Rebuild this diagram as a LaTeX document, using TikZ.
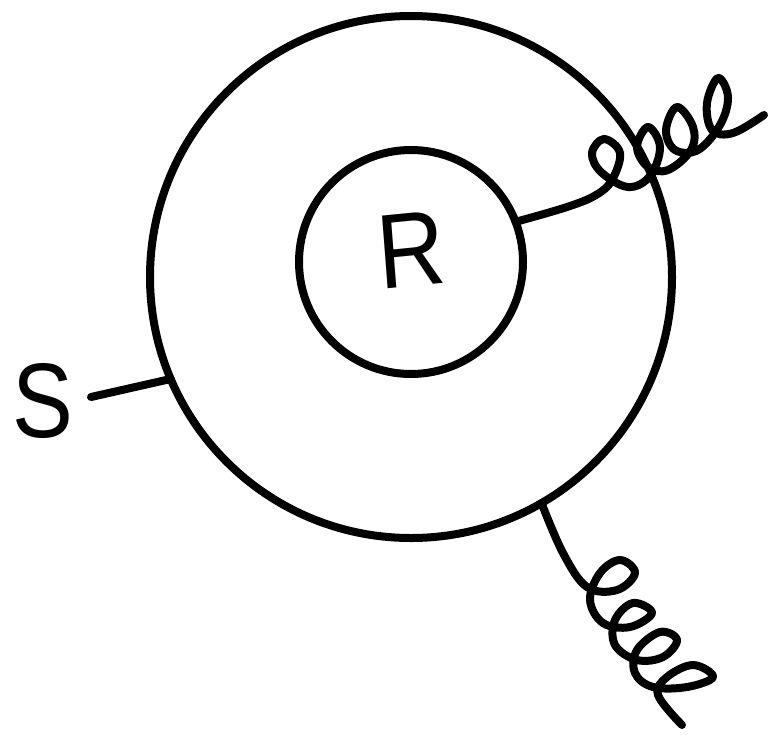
\documentclass[tikz,border=0pt]{standalone}
\usepackage{fontspec}
\setmainfont{Liberation Sans}
\tikzset{
  ink/.style={line width=8pt,black,line cap=round,line join=round},
  ring/.style={circle,draw,line width=8pt,black,inner sep=0pt,outer sep=0pt},
  letter/.style={inner sep=0pt,outer sep=0pt,black,font=\fontsize{106}{106}\selectfont}
}
\begin{document}
\begin{tikzpicture}[x=1pt,y=-1pt]
\useasboundingbox (0,0) rectangle (768,734);
\node[ring,minimum size=522pt] (outer) at (411,277) {};
\node[ring,minimum size=224pt] (inner) at (411,262) {};
\node[letter,xscale=0.88,rotate=5] (labelR) at (411,250) {R};
\node[letter,xscale=0.86] (labelS) at (43,401) {S};
\coordinate (sEnd) at (91,397);
\draw[ink] (sEnd) -- (outer.203.3);
\draw[ink] plot[smooth,tension=0.62] coordinates {
 (inner.21.6) (567,207) (596,195) (612,180) (620,153) (604,139) (592,153) (601,172)
 (628,187) (650,176) (660,147) (648,127) (637,147) (648,167)
 (668,170) (691,150) (693,127) (677,107) (666,130) (675,150)
 (698,150) (720,125) (728,97) (718,78) (707,103) (712,130)
 (733,133) (764,115)};
\draw[ink] plot[smooth,tension=0.62] coordinates {
 (outer.-60.1) (563,553) (587,587) (617,590) (635,573) (620,560) (600,573) (590,600)
 (603,623) (630,627) (652,613) (633,603) (615,620) (615,645)
 (637,660) (663,657) (677,640) (660,632) (637,650) (635,673)
 (653,687) (687,687) (713,677) (693,665) (667,677) (658,695) (682,725)};
\end{tikzpicture}
\end{document}
